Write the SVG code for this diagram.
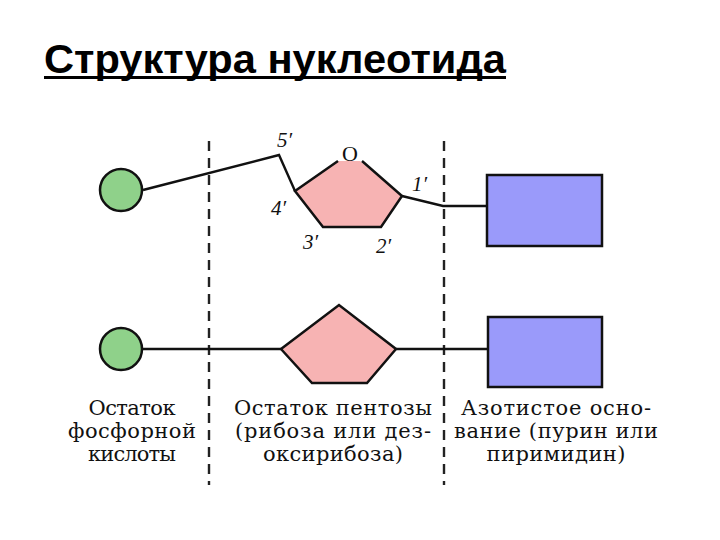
<svg xmlns="http://www.w3.org/2000/svg" width="720" height="540" viewBox="0 0 720 540">
<style>
  .title { font-family: "Liberation Sans", Arial, sans-serif; font-weight: bold; font-size: 40px; fill: #000; }
  .lbl { font-family: "DejaVu Serif", "Liberation Serif", serif; font-size: 21px; fill: #111; text-anchor: middle; }
  .num { font-family: "Liberation Serif", serif; font-style: italic; font-size: 21px; fill: #111; }
  .oxy { font-family: "Liberation Serif", serif; font-size: 22px; fill: #111; text-anchor: middle; }
  .phos { fill: #8fd18a; stroke: #111; stroke-width: 2.5; }
  .sugar { fill: #f7b3b3; stroke: #111; stroke-width: 2.5; stroke-linejoin: miter; }
  .base { fill: #9a9afa; stroke: #111; stroke-width: 2.5; }
  .conn { fill: none; stroke: #111; stroke-width: 2.4; }
  .div { stroke: #222; stroke-width: 2.4; stroke-dasharray: 10 7; }
</style>
<rect width="720" height="540" fill="#fff"/>
<g id="title">
  <text class="title" x="44" y="73" textLength="462" lengthAdjust="spacingAndGlyphs">Структура нуклеотида</text>
  <rect x="44" y="76" width="462" height="3" fill="#000"/>
</g>
<g id="dividers">
  <line class="div" x1="209" y1="141" x2="209" y2="485"/>
  <line class="div" x1="444" y1="141" x2="444" y2="485"/>
</g>
<g id="connectors">
  <polyline class="conn" points="143,190 279,155 295,191"/>
  <polyline class="conn" points="402,196 443,206 487,206"/>
  <line class="conn" x1="142" y1="349" x2="281" y2="349"/>
  <line class="conn" x1="396" y1="349" x2="488" y2="349"/>
</g>
<g id="phosphate-top">
  <circle class="phos" cx="121" cy="190" r="21"/>
</g>
<g id="sugar-top">
  <polygon points="295,191 338,161 360,161 402,196 381,227 323,227" fill="#f7b3b3" stroke="none"/>
  <polyline class="sugar" points="338,161 295,191 323,227 381,227 402,196 362,161" style="fill:none"/>
  <text class="oxy" x="350" y="161">O</text>
  <text class="num" x="277" y="147">5′</text>
  <text class="num" x="271" y="215">4′</text>
  <text class="num" x="303" y="249">3′</text>
  <text class="num" x="376" y="253">2′</text>
  <text class="num" x="412" y="191">1′</text>
</g>
<g id="base-top">
  <rect class="base" x="487" y="175" width="115" height="71"/>
</g>
<g id="phosphate-bottom">
  <circle class="phos" cx="121" cy="349" r="21"/>
</g>
<g id="sugar-bottom">
  <polygon class="sugar" points="281,349 339,305 396,349 367,383 312,383"/>
</g>
<g id="base-bottom">
  <rect class="base" x="488" y="317" width="114" height="70"/>
</g>
<g id="label-phosphate">
  <text class="lbl" x="132" y="415" textLength="87">Остаток</text>
  <text class="lbl" x="132" y="438" textLength="128">фосфорной</text>
  <text class="lbl" x="132" y="461" textLength="88">кислоты</text>
</g>
<g id="label-sugar">
  <text class="lbl" x="333" y="415" textLength="198">Остаток пентозы</text>
  <text class="lbl" x="333" y="438" textLength="196">(рибоза или дез-</text>
  <text class="lbl" x="333" y="461" textLength="140">оксирибоза)</text>
</g>
<g id="label-base">
  <text class="lbl" x="556" y="415" textLength="190">Азотистое осно-</text>
  <text class="lbl" x="556" y="438" textLength="204">вание (пурин или</text>
  <text class="lbl" x="556" y="461" textLength="139">пиримидин)</text>
</g>
</svg>
